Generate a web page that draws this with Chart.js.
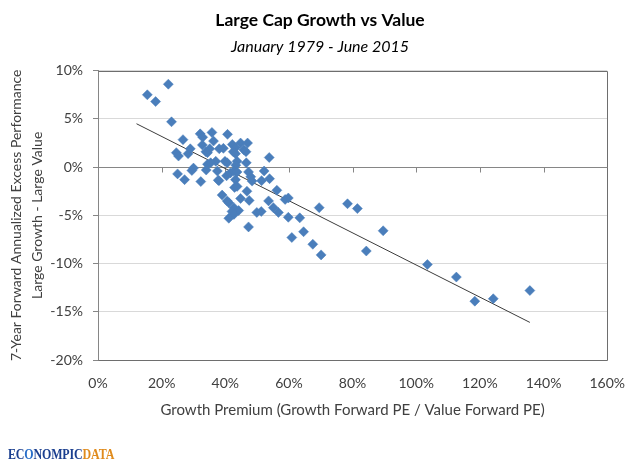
<!DOCTYPE html>
<html>
<head>
<meta charset="utf-8">
<script src="https://cdn.jsdelivr.net/npm/chart.js@4/dist/chart.umd.min.js"></script>
<style>
  html, body { margin: 0; padding: 0; background: #fff; }
  #wrap { position: relative; width: 640px; height: 469px; }
  #logo { position: absolute; left: 8px; top: 446px; font-family: "Liberation Serif", serif; font-weight: bold; font-size: 15px; line-height: 17px; transform: scaleX(0.8); transform-origin: left center; white-space: nowrap; letter-spacing: -0.2px; }
  #logo .n { color: #1b3f8f; }
  #logo .g { color: #2a6fc9; }
  #logo .d { color: #e08b1c; }
</style>
</head>
<body>
<div id="wrap">
  <canvas id="c" width="640" height="469"></canvas>
  <div id="logo"><span class="n">EC</span><span class="g">O</span><span class="n">NOMPIC</span><span class="d">DATA</span></div>
</div>
<script>
// Growth premium (%), x values
const premium = [
  15.5, 18.1, 22.1, 23.1, 26.7, 24.6, 25.3, 28.3, 29.0, 25.0,
  27.2, 29.5, 30.0, 32.3, 32.1, 32.9, 35.8, 36.3, 32.8, 33.9,
  35.1, 34.4, 38.1, 39.4, 40.7, 42.2, 43.2, 44.8, 47.0, 45.8,
  42.5, 43.2, 46.5, 46.6, 37.0, 34.4, 35.4, 34.0, 37.8, 39.9,
  40.6, 43.7, 43.3, 37.5, 40.4, 41.6, 42.7, 43.7, 43.2, 42.9,
  47.3, 48.0, 48.4, 52.2, 51.4, 53.9, 53.8, 56.2, 38.0, 43.7,
  46.8, 39.0, 40.6, 41.1, 44.8, 47.5, 42.7, 44.2, 42.1, 42.7,
  41.1, 47.3, 49.9, 51.3, 53.6, 55.1, 56.7, 58.8, 59.8, 59.8,
  63.4, 69.5, 60.9, 64.6, 67.5, 70.1, 78.4, 81.5, 89.6, 84.3,
  103.5, 112.6, 118.4, 124.2, 135.7
];
// 7-year forward annualized excess performance (%), y values
const excess = [
  7.5, 6.8, 8.6, 4.7, 2.85, 1.5, 1.15, 1.4, 1.9, -0.7,
  -1.3, -0.35, -0.1, -1.5, 3.45, 3.1, 3.6, 2.7, 2.3, 1.6,
  1.9, 1.5, 1.9, 1.95, 3.4, 2.35, 2.0, 2.5, 2.5, 1.8,
  1.6, 1.4, 1.6, 0.45, 0.6, 0.3, 0.45, -0.3, -1.35, 0.6,
  0.45, 0.6, 0.2, -0.4, -0.9, -0.6, -0.4, -0.5, -1.3, -2.1,
  -0.5, -1.0, -1.45, -0.4, -1.4, -1.2, 1.0, -2.4, -1.4, -2.0,
  -2.5, -2.9, -3.5, -3.7, -3.25, -3.45, -4.2, -4.5, -4.6, -4.9,
  -5.3, -6.2, -4.7, -4.6, -3.5, -4.2, -4.7, -3.35, -3.2, -5.2,
  -5.26, -4.2, -7.3, -6.7, -8.0, -9.1, -3.8, -4.3, -6.6, -8.7,
  -10.1, -11.4, -13.9, -13.65, -12.8
];
// Linear trendline end points
const trendX = [12.1, 135.7];
const trendY = [4.5, -16.1];
// Tick settings
const xTicks = [0, 20, 40, 60, 80, 100, 120, 140, 160];
const yTicks = [-20, -15, -10, -5, 0, 5, 10];

const points = premium.map((x, i) => ({ x: x, y: excess[i] }));
const trend = trendX.map((x, i) => ({ x: x, y: trendY[i] }));

const FONT = 'Lato, "Open Sans", sans-serif';

const frameAndZeroAxis = {
  id: 'frameAndZeroAxis',
  beforeDatasetsDraw(chart) {
    const { ctx, chartArea, scales } = chart;
    const l = Math.round(chartArea.left) + 0.5;
    const r = Math.round(chartArea.right) + 0.5;
    const t = Math.round(chartArea.top) + 0.5;
    const b = Math.round(chartArea.bottom) + 0.5;
    ctx.save();
    ctx.lineWidth = 1;
    // plot area frame (top, right, bottom)
    ctx.strokeStyle = '#6e6e6e';
    ctx.beginPath();
    ctx.moveTo(l, t);
    ctx.lineTo(r, t);
    ctx.lineTo(r, b);
    ctx.lineTo(l, b);
    ctx.stroke();
    // horizontal axis crossing at 0 with tick marks
    const y0 = Math.round(scales.y.getPixelForValue(0)) + 0.5;
    ctx.strokeStyle = '#868686';
    ctx.beginPath();
    ctx.moveTo(l, y0);
    ctx.lineTo(r, y0);
    xTicks.forEach(v => {
      if (v === 0 || v === 160) return;
      const px = Math.round(scales.x.getPixelForValue(v)) + 0.5;
      ctx.moveTo(px, y0);
      ctx.lineTo(px, y0 + 5);
    });
    ctx.stroke();
    ctx.restore();
  }
};

new Chart(document.getElementById('c'), {
  type: 'scatter',
  data: {
    datasets: [
      {
        type: 'line',
        data: trend,
        borderColor: '#3c3c3c',
        borderWidth: 1,
        pointRadius: 0,
        fill: false,
        order: 2
      },
      {
        data: points,
        pointStyle: 'rectRot',
        pointRadius: 5,
        backgroundColor: '#4a7ebb',
        borderColor: '#4a7ebb',
        borderWidth: 0.5,
        order: 1
      }
    ]
  },
  options: {
    responsive: false,
    animation: false,
    devicePixelRatio: 1,
    layout: { padding: 0 },
    plugins: {
      legend: { display: false },
      tooltip: { enabled: false },
      title: {
        display: true,
        text: 'Large Cap Growth vs Value',
        color: '#000',
        font: { family: FONT, size: 17.5, weight: 'bold', lineHeight: 1.2 },
        padding: { top: 10, bottom: 0 }
      },
      subtitle: {
        display: true,
        text: 'January 1979 - June 2015',
        color: '#000',
        font: { family: FONT, size: 16, style: 'italic', lineHeight: 1.2 },
        padding: { top: 6, bottom: 14.5 }
      }
    },
    scales: {
      x: {
        type: 'linear',
        min: 0,
        max: 160,
        afterBuildTicks(scale) { scale.ticks = xTicks.map(v => ({ value: v })); },
        afterFit(scale) { scale.height = 109; },
        grid: { display: false, drawTicks: false },
        border: { display: false },
        ticks: {
          padding: 15,
          color: '#404040',
          font: { family: FONT, size: 14 },
          callback: v => v + '%'
        },
        title: {
          display: true,
          text: 'Growth Premium (Growth Forward PE / Value Forward PE)',
          color: '#404040',
          font: { family: FONT, size: 15, lineHeight: 1.2 },
          padding: { top: 0, bottom: 50 }
        }
      },
      y: {
        type: 'linear',
        min: -20,
        max: 10,
        afterBuildTicks(scale) { scale.ticks = yTicks.map(v => ({ value: v })); },
        afterFit(scale) { scale.width = 98; },
        grid: { color: '#d9d9d9', tickColor: '#868686', tickLength: 5, lineWidth: 1 },
        border: { display: true, color: '#868686', width: 1 },
        ticks: {
          padding: 10,
          color: '#404040',
          font: { family: FONT, size: 14 },
          callback: v => v + '%'
        },
        title: {
          display: true,
          text: ['7-Year Forward Annualized Excess Performance', 'Large Growth - Large Value'],
          color: '#404040',
          font: { family: FONT, size: 14, lineHeight: '21px' },
          padding: { top: 6, bottom: 0 }
        }
      },
      spacer: {
        type: 'linear',
        position: 'right',
        display: true,
        afterFit(scale) { scale.width = 32; },
        grid: { display: false, drawTicks: false },
        border: { display: false },
        ticks: { display: false }
      }
    }
  },
  plugins: [frameAndZeroAxis]
});
</script>
</body>
</html>
